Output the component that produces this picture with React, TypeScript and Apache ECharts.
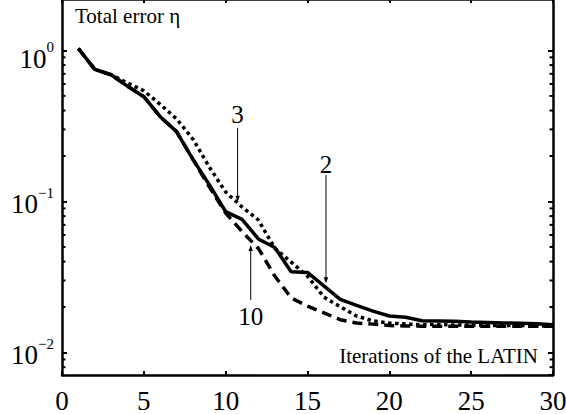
import React, { useEffect, useRef } from 'react';
import * as echarts from 'echarts';

const FONT = 'Liberation Serif';

// Iteration numbers of the LATIN method
const ITERATIONS = [
  1, 2, 3, 4, 5, 6, 7, 8, 9, 10, 11, 12, 13, 14, 15,
  16, 17, 18, 19, 20, 21, 22, 23, 24, 25, 26, 27, 28, 29, 30,
];

// Total error, curve "2" (solid)
const ERR_2 = [
  1.03, 0.75, 0.69, 0.58, 0.494, 0.364, 0.29, 0.19, 0.129, 0.0856,
  0.0762, 0.0565, 0.0496, 0.0343, 0.0339, 0.0276, 0.0225, 0.0205, 0.0188, 0.01745,
  0.0171, 0.01625, 0.0162, 0.0161, 0.0159, 0.0158, 0.0157, 0.0156, 0.0155, 0.0153,
];

// Total error, curve "3" (dotted)
const ERR_3 = [
  1.03, 0.75, 0.69, 0.61, 0.54, 0.44, 0.352, 0.259, 0.169, 0.1156,
  0.092, 0.0754, 0.049, 0.0397, 0.032, 0.0233, 0.0201, 0.01745, 0.0162, 0.01568,
  0.01543, 0.01532, 0.0153, 0.0152, 0.0152, 0.0151, 0.0151, 0.0151, 0.015, 0.015,
];

// Total error, curve "10" (dashed)
const ERR_10 = [
  1.03, 0.75, 0.69, 0.58, 0.494, 0.364, 0.29, 0.19, 0.125, 0.0838,
  0.0633, 0.0489, 0.0321, 0.023, 0.0203, 0.0183, 0.0165, 0.01568, 0.01542, 0.0151,
  0.015, 0.01495, 0.01495, 0.0149, 0.0149, 0.0149, 0.0149, 0.0149, 0.0149, 0.0149,
];

// Axis ranges and ticks
const X_MIN = 0;
const X_MAX = 30;
const X_INTERVAL = 5;
const Y_MIN = 0.0071;
const Y_MAX = 2.19;
const Y_MINOR_TICKS = [
  0.008, 0.009,
  0.02, 0.03, 0.04, 0.05, 0.06, 0.07, 0.08, 0.09,
  0.2, 0.3, 0.4, 0.5, 0.6, 0.7, 0.8, 0.9,
];

// Annotations (curve labels with arrows)
const ANNOT_LABELS = ['3', '2', '10'];
const ANNOT_X = [10.73, 16.13, 11.53];
const ANNOT_LABEL_Y = [0.374, 0.177, 0.01745];
const ANNOT_START_Y = [0.307, 0.1498, 0.0223];
const ANNOT_TIP_Y = [0.0997, 0.0287, 0.0515];

const TITLE_Y = 'Total error η';
const TITLE_X = 'Iterations of the LATIN';

function isPow10(v: number) {
  const l = Math.log10(v);
  return Math.abs(l - Math.round(l)) < 1e-6;
}

export default function App() {
  const ref = useRef<HTMLDivElement>(null);

  useEffect(() => {
    if (!ref.current) return;
    const chart = echarts.init(ref.current, undefined, { renderer: 'svg' });

    const toPairs = (ys: number[]) => ITERATIONS.map((x, i) => [x, ys[i]]);

    const minorData: number[][] = [];
    Y_MINOR_TICKS.forEach((v) => {
      minorData.push([X_MIN, v]);
      minorData.push([X_MAX, v]);
    });

    const annotData = ANNOT_X.map((x, i) => [x, ANNOT_LABEL_Y[i], ANNOT_START_Y[i], ANNOT_TIP_Y[i]]);

    const axisLine = { show: true, onZero: false, lineStyle: { color: '#000', width: 2.5 } };
    const base = { fontSize: 27, fontFamily: FONT, color: '#000', verticalAlign: 'top' };
    const sup = { fontSize: 15, fontFamily: FONT, color: '#000', verticalAlign: 'top', lineHeight: 15 };

    const option: any = {
      animation: false,
      backgroundColor: '#fff',
      textStyle: { fontFamily: FONT },
      grid: {
        left: 62,
        right: 13,
        top: -1,
        bottom: 39,
        containLabel: false,
        outerBoundsMode: 'none',
      },
      xAxis: [
        {
          type: 'value',
          position: 'bottom',
          min: X_MIN,
          max: X_MAX,
          interval: X_INTERVAL,
          axisLine,
          axisTick: { show: true, inside: true, length: 4, lineStyle: { color: '#000', width: 2 } },
          axisLabel: { show: true, color: '#000', fontFamily: FONT, fontSize: 27, margin: 12 },
          splitLine: { show: false },
        },
        {
          type: 'value',
          position: 'top',
          min: X_MIN,
          max: X_MAX,
          interval: X_INTERVAL,
          axisLine,
          axisTick: { show: true, inside: true, length: 4, lineStyle: { color: '#000', width: 2 } },
          axisLabel: { show: false },
          splitLine: { show: false },
        },
      ],
      yAxis: [
        {
          type: 'log',
          logBase: 10,
          position: 'left',
          min: Y_MIN,
          max: Y_MAX,
          axisLine,
          axisTick: { show: true, inside: true, length: 5, lineStyle: { color: '#000', width: 2 } },
          axisLabel: {
            show: true,
            margin: 8,
            showMinLabel: false,
            showMaxLabel: false,
            formatter: (v: number) => {
              if (!isPow10(v)) return '';
              const e = Math.round(Math.log10(v));
              if (e === 0) return '{b0|10}{s|0}';
              const es = e < 0 ? '\u2212' + String(-e) : String(e);
              return '{b|10}{s|' + es + '}';
            },
            rich: {
              b: { ...base, lineHeight: 31.4, padding: [4.7, 0, 0, 0] },
              b0: { ...base, lineHeight: 22.6, padding: [6.6, 0, 0, 0] },
              s: sup,
            },
          },
          splitLine: { show: false },
        },
        {
          type: 'log',
          logBase: 10,
          position: 'right',
          min: Y_MIN,
          max: Y_MAX,
          axisLine,
          axisTick: { show: true, inside: true, length: 5, lineStyle: { color: '#000', width: 2 } },
          axisLabel: { show: false },
          splitLine: { show: false },
        },
      ],
      series: [
        {
          name: '10',
          type: 'line',
          data: toPairs(ERR_10),
          showSymbol: false,
          symbol: 'none',
          lineStyle: { color: '#000', width: 3.5, type: [10, 6], cap: 'butt' },
          z: 2,
        },
        {
          name: '3',
          type: 'line',
          data: toPairs(ERR_3),
          showSymbol: false,
          symbol: 'none',
          lineStyle: { color: '#000', width: 3.5, type: [3.5, 3.5], cap: 'butt' },
          z: 3,
        },
        {
          name: '2',
          type: 'line',
          data: toPairs(ERR_2),
          showSymbol: false,
          symbol: 'none',
          lineStyle: { color: '#000', width: 3.5 },
          z: 4,
        },
        {
          name: 'minorTicks',
          type: 'custom',
          clip: false,
          silent: true,
          data: minorData,
          encode: { x: 0, y: 1 },
          renderItem: (params: any, api: any) => {
            const xv = api.value(0);
            const p = api.coord([xv, api.value(1)]);
            const dir = xv === X_MIN ? 1 : -1;
            return {
              type: 'line',
              shape: { x1: p[0], y1: p[1], x2: p[0] + dir * 3.5, y2: p[1] },
              style: { stroke: '#000', lineWidth: 2 },
            };
          },
          z: 5,
        },
        {
          name: 'annotations',
          type: 'custom',
          clip: false,
          silent: true,
          data: annotData,
          encode: { x: 0, y: 1 },
          renderItem: (params: any, api: any) => {
            const x = api.value(0);
            const pl = api.coord([x, api.value(1)]);
            const ps = api.coord([x, api.value(2)]);
            const pt = api.coord([x, api.value(3)]);
            const down = pt[1] > ps[1] ? 1 : -1;
            const hl = 6;
            const hw = 2.2;
            return {
              type: 'group',
              children: [
                {
                  type: 'line',
                  shape: { x1: ps[0], y1: ps[1], x2: pt[0], y2: pt[1] - down * 2 },
                  style: { stroke: '#000', lineWidth: 1 },
                },
                {
                  type: 'polygon',
                  shape: {
                    points: [
                      [pt[0], pt[1]],
                      [pt[0] - hw, pt[1] - down * hl],
                      [pt[0] + hw, pt[1] - down * hl],
                    ],
                  },
                  style: { fill: '#000' },
                },
                {
                  type: 'text',
                  style: {
                    text: ANNOT_LABELS[params.dataIndex],
                    x: pl[0],
                    y: pl[1],
                    align: 'center',
                    verticalAlign: 'middle',
                    fontSize: 25,
                    fontFamily: FONT,
                    fill: '#000',
                  },
                },
              ],
            };
          },
          z: 6,
        },
      ],
      graphic: [
        {
          type: 'text',
          x: 75,
          y: 16,
          style: {
            text: TITLE_Y,
            fontSize: 21,
            fontFamily: FONT,
            fill: '#000',
            align: 'left',
            verticalAlign: 'middle',
          },
        },
        {
          type: 'text',
          x: 538,
          y: 356,
          style: {
            text: TITLE_X,
            fontSize: 21,
            fontFamily: FONT,
            fill: '#000',
            align: 'right',
            verticalAlign: 'middle',
          },
        },
      ],
    };

    chart.setOption(option);
    return () => {
      chart.dispose();
    };
  }, []);

  return (
    <div
      ref={ref}
      style={{ position: 'fixed', left: 0, top: 0, width: 566, height: 414, background: '#fff' }}
    />
  );
}
